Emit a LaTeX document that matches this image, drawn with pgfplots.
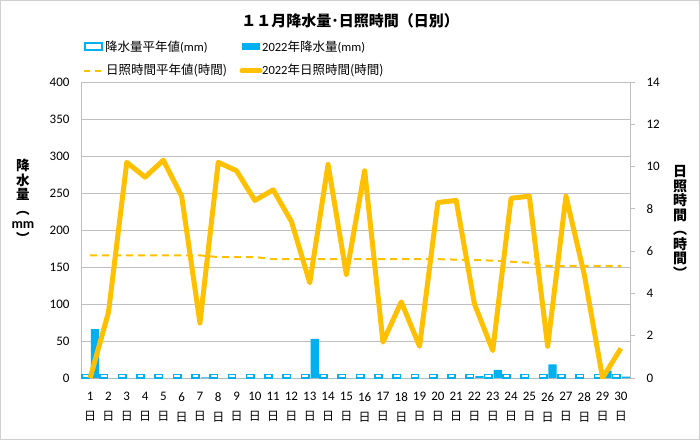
\documentclass[border=0pt]{standalone}
\usepackage{pgfplots}
\pgfplotsset{compat=1.18}
\usepackage{pgfplotstable}
\usepackage{fontspec}
\setmainfont{Carlito}
\newfontfamily\jp{Noto Sans CJK JP}
\definecolor{barblue}{HTML}{00B0F0}
\definecolor{sunyel}{HTML}{FFC000}
\definecolor{gridgray}{HTML}{BFBFBF}
\definecolor{framegray}{HTML}{D0D0D0}

\pgfplotstableread{
day avg rain sunavg sun
1 5 66 5.8 0
2 5 0 5.8 3.1
3 5 0 5.8 10.2
4 5 0 5.8 9.5
5 5 0 5.8 10.3
6 5 0 5.8 8.6
7 5 1 5.8 2.6
8 5 0 5.72 10.2
9 5 0 5.72 9.8
10 5 0 5.72 8.4
11 5 0 5.62 8.9
12 5 0 5.62 7.4
13 5 53 5.62 4.5
14 5 0 5.62 10.1
15 5 0 5.62 4.9
16 5 0 5.62 9.8
17 5 0 5.62 1.7
18 5 0 5.62 3.6
19 5 0 5.62 1.5
20 5 0 5.62 8.3
21 5 0 5.6 8.4
22 5 2.5 5.58 3.5
23 5 11 5.55 1.3
24 5 0 5.5 8.5
25 5 0 5.45 8.6
26 5 18.5 5.3 1.5
27 5 0 5.3 8.6
28 5 0 5.3 4.9
29 5 10 5.3 0
30 5 2 5.3 1.4
}\data

\begin{document}
\begin{tikzpicture}
\useasboundingbox (0pt,0pt) rectangle (700pt,440pt);
\draw[framegray, line width=1pt] (0.5pt,0.5pt) rectangle (699.5pt,439.5pt);

% title
\node[font={\jp\bfseries\fontsize{15}{17}\selectfont}] at (350pt,419.3pt) {１１月降水量･日照時間（日別）};

% legend
\draw[barblue, line width=2pt, fill=white] (85pt,390pt) rectangle (102pt,396.5pt);
\node[anchor=west, inner sep=0pt] at (105pt,393.3pt) {{\jp\fontsize{12.5}{14}\selectfont 降水量平年値}{\fontsize{12.5}{14}\selectfont (mm)}};
\fill[barblue] (242pt,390pt) rectangle (260pt,396.5pt);
\node[anchor=west, inner sep=0pt] at (262pt,393.3pt) {\fontsize{12.5}{14}\selectfont 2022{\jp 年降水量}(mm)};
\draw[sunyel, line width=2pt, dash pattern=on 6pt off 5pt] (84pt,369.3pt) -- (106pt,369.3pt);
\node[anchor=west, inner sep=0pt] at (106pt,369.3pt) {{\jp\fontsize{12.5}{14}\selectfont 日照時間平年値(時間)}};
\draw[sunyel, line width=5pt, line cap=round] (242pt,369.3pt) -- (260pt,369.3pt);
\node[anchor=west, inner sep=0pt] at (262pt,369.3pt) {\fontsize{12.5}{14}\selectfont 2022{\jp 年日照時間(時間)}};

% axis labels
\node[align=center, font={\jp\bfseries\fontsize{13.5}{14.5}\selectfont}] at (23pt,239pt) {降\\水\\量\\︵\\{\normalfont\bfseries\fontsize{14}{14.5}\selectfont mm}\\︶};
\node[align=center, font={\jp\bfseries\fontsize{14}{14.5}\selectfont}] at (680pt,218pt) {日\\照\\時\\間\\︵\\時\\間\\︶};

\begin{axis}[
  name=ax1,
  at={(81pt,62pt)}, anchor=south west,
  scale only axis, width=549pt, height=296pt,
  xmin=0.5, xmax=30.5, ymin=0, ymax=400,
  xtick={1,...,30},
  xticklabel={\pgfmathprintnumber{\tick}\\[6pt]{\jp\fontsize{12}{12}\selectfont 日}},
  xticklabel style={align=center, font=\fontsize{13}{14}\selectfont, yshift=-11pt},
  ytick={0,50,...,400},
  yticklabel style={font=\fontsize{13}{14}\selectfont, xshift=-8pt},
  /pgf/number format/assume math mode=true,
  ymajorgrids, grid style={gridgray, line width=0.8pt},
  axis x line*=bottom, axis y line*=left,
  axis line style={gridgray, line width=0.8pt},
  major tick length=0pt,
  clip=true,
]
\addplot[ybar, bar width=0.4, bar shift=-0.25, fill=white, draw=barblue, line width=1.6pt] table[x=day,y=avg]{\data};
\addplot[ybar, bar width=0.45, bar shift=0.27, fill=barblue, draw=none] table[x=day,y=rain]{\data};
\end{axis}

\begin{axis}[
  at={(ax1.south west)}, anchor=south west,
  scale only axis, width=549pt, height=296pt,
  xmin=0.5, xmax=30.5, ymin=0, ymax=14,
  ytick={0,2,...,14},
  axis x line=none, axis y line*=right,
  axis line style={gridgray, line width=0.8pt},
  yticklabel style={font=\fontsize{13}{14}\selectfont, xshift=8pt},
  /pgf/number format/assume math mode=true,
  tick align=outside, major tick length=5pt,
  tick style={gridgray, line width=0.8pt},
]
\addplot[sunyel, line width=2pt, dash pattern=on 7pt off 5pt, mark=none] table[x=day,y=sunavg]{\data};
\addplot[sunyel, line width=5pt, line join=round, mark=none] table[x=day,y=sun]{\data};
\end{axis}
\end{tikzpicture}
\end{document}
